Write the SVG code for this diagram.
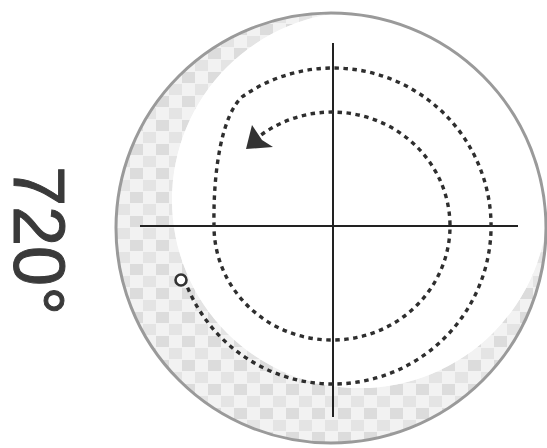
<svg xmlns="http://www.w3.org/2000/svg" width="547" height="448" viewBox="0 0 547 448">
<style>
.axis{stroke:#222;stroke-width:2;fill:none}
.dots{stroke:#2e2e2e;stroke-width:3.4;fill:none;stroke-dasharray:4.5 4.5}
.lbl{font-family:"Liberation Sans",Arial,sans-serif;font-size:72px;fill:#3a3a3a;stroke:#3a3a3a;stroke-width:1}
</style>
<defs>
<pattern id="chk" width="26" height="24" patternUnits="userSpaceOnUse">
<rect width="26" height="24" fill="#f0f0f0"/>
<rect x="0" y="0" width="13" height="11" fill="#d6d6d6"/>
<rect x="13" y="12" width="13" height="11" fill="#e0e0e0"/>
</pattern>
<clipPath id="disc"><circle cx="331" cy="228" r="216"/></clipPath>
</defs>
<rect width="547" height="448" fill="#fff"/>
<g id="disc-body">
<circle cx="331" cy="228" r="216" fill="#fff"/>
<g clip-path="url(#disc)">
<circle cx="331" cy="228" r="216" fill="url(#chk)" opacity="0.3"/>
<path d="M115,228a216,216 0 1,0 432,0a216,216 0 1,0 -432,0Z M172,200a188,188 0 1,0 376,0a188,188 0 1,0 -376,0Z" fill="url(#chk)" fill-rule="evenodd" opacity="0.8"/>
<circle cx="360" cy="200" r="188" fill="#fff"/>
</g>
<circle cx="331" cy="228" r="215" fill="none" stroke="#9a9a9a" stroke-width="3"/>
</g>
<g id="connectors">
<line class="axis" x1="333" y1="43" x2="333" y2="417"/>
<line class="axis" x1="140" y1="226" x2="518" y2="226"/>
<path class="dots" d="M187.6,287.7 A158,158 0 1 0 242.4,96.6 C222,115 213,170 214,226 A118,114 0 1 0 261,135"/>
<polygon points="246,149 252,125 262,140 273,147" fill="#333"/>
</g>
<g id="start">
<circle cx="181" cy="280" r="5.5" fill="#fff" stroke="#333" stroke-width="2.6"/>
</g>
<g id="label">
<text class="lbl" transform="translate(14,166) rotate(90)">720°</text>
</g>
</svg>
